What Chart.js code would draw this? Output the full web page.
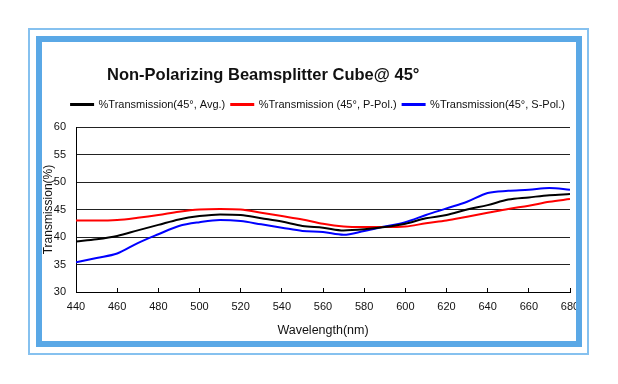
<!DOCTYPE html>
<html>
<head>
<meta charset="utf-8">
<script src="https://cdn.jsdelivr.net/npm/chart.js@4.4.1/dist/chart.umd.min.js"></script>
<style>
  body { margin: 0; background: #fff; }
  #wrap { position: relative; width: 618px; height: 384px; overflow: hidden; }
  #chart { position: absolute; left: 0; top: 0; }
  .frame { position: absolute; box-sizing: border-box; pointer-events: none; }
  #outer { left: 28px; top: 28px; width: 561px; height: 327px; border: 2px solid #86c1ef; }
  #band { left: 36px; top: 36px; width: 546px; height: 311px; border: 6px solid #5aa8e6; }
  #title {
    position: absolute; left: 107px; top: 65px; line-height: 20px;
    font: bold 16.5px "Liberation Sans", Arial, sans-serif; color: #111; white-space: nowrap;
  }
</style>
</head>
<body>
<div id="wrap">
  <canvas id="chart" width="618" height="384"></canvas>
  <div id="title">Non-Polarizing Beamsplitter Cube@ 45°</div>
  <div class="frame" id="outer"></div>
  <div class="frame" id="band"></div>
</div>
<script>
// wavelength (nm) and transmission (%)
const wavelengths = [440, 450, 460, 470, 480, 490, 500, 510, 520, 530, 540, 550, 560,
                     570, 580, 590, 600, 610, 620, 630, 640, 650, 660, 670, 680];
const avgT  = [39.2, 39.6, 40.2, 41.2, 42.2, 43.2, 43.8, 44.1, 44.0, 43.4, 42.8, 42.0, 41.7,
               41.2, 41.4, 41.8, 42.4, 43.4, 44.0, 45.0, 45.8, 46.8, 47.2, 47.6, 47.8];
const pPolT = [43.0, 43.0, 43.1, 43.5, 44.0, 44.6, 45.0, 45.1, 45.0, 44.4, 43.8, 43.2, 42.4,
               41.9, 41.8, 41.8, 41.9, 42.5, 43.0, 43.7, 44.4, 45.1, 45.7, 46.4, 46.9];
const sPolT = [35.4, 36.2, 37.0, 38.9, 40.5, 42.0, 42.7, 43.1, 42.9, 42.3, 41.7, 41.1, 40.9,
               40.4, 41.1, 41.9, 42.7, 44.0, 45.2, 46.4, 48.0, 48.4, 48.6, 48.9, 48.6];
const seriesNames = ["%Transmission(45°, Avg.)", "%Transmission (45°, P-Pol.)", "%Transmission(45°, S-Pol.)"];
const seriesColors = ["#000000", "#ff0000", "#0000ff"];

const fontFamily = '"Liberation Sans", Arial, sans-serif';

function toPoints(values) {
  return wavelengths.map((w, i) => ({ x: w, y: values[i] }));
}

// extra room under the legend, and move it a bit right like the original
const legendNudge = {
  id: "legendNudge",
  beforeInit(chart) {
    const fit = chart.legend.fit;
    chart.legend.fit = function () {
      fit.call(this);
      this.height += 7;
    };
  },
  afterLayout(chart) {
    chart.legend.left += 14;
    chart.legend.right += 14;
  }
};

const ctx = document.getElementById("chart").getContext("2d");
new Chart(ctx, {
  type: "line",
  data: {
    datasets: [avgT, pPolT, sPolT].map((vals, i) => ({
      label: seriesNames[i],
      data: toPoints(vals),
      borderColor: seriesColors[i],
      backgroundColor: seriesColors[i],
      borderWidth: 2,
      pointRadius: 0,
      cubicInterpolationMode: "monotone",
      fill: false
    }))
  },
  options: {
    responsive: false,
    animation: false,
    devicePixelRatio: 1,
    layout: { padding: { left: 38, right: 48, top: 93, bottom: 42 } },
    plugins: {
      legend: {
        position: "top",
        labels: {
          boxWidth: 22,
          boxHeight: 1,
          padding: 6,
          color: "#111",
          font: { family: fontFamily, size: 11 }
        }
      },
      tooltip: { enabled: false }
    },
    scales: {
      x: {
        type: "linear",
        min: 440,
        max: 680,
        ticks: { stepSize: 20, color: "#111", padding: 12, font: { family: fontFamily, size: 11 } },
        grid: { drawOnChartArea: false, drawTicks: true, tickLength: -4, color: "#000" },
        border: { color: "#000", width: 1 },
        title: {
          display: true,
          text: "Wavelength(nm)",
          color: "#111",
          font: { family: fontFamily, size: 12.5 },
          padding: { top: 4, bottom: 4 }
        },
        afterFit(scale) { scale.height = 50; }
      },
      y: {
        min: 30,
        max: 60,
        ticks: { stepSize: 5, color: "#111", padding: 10, font: { family: fontFamily, size: 11 } },
        grid: { color: "#222", drawTicks: false },
        border: { color: "#000", width: 1 },
        title: {
          display: true,
          text: "Transmission(%)",
          color: "#111",
          font: { family: fontFamily, size: 12 },
          padding: { top: 3, bottom: 0 }
        },
        afterFit(scale) { scale.width = 38; }
      }
    }
  },
  plugins: [legendNudge]
});
</script>
</body>
</html>
